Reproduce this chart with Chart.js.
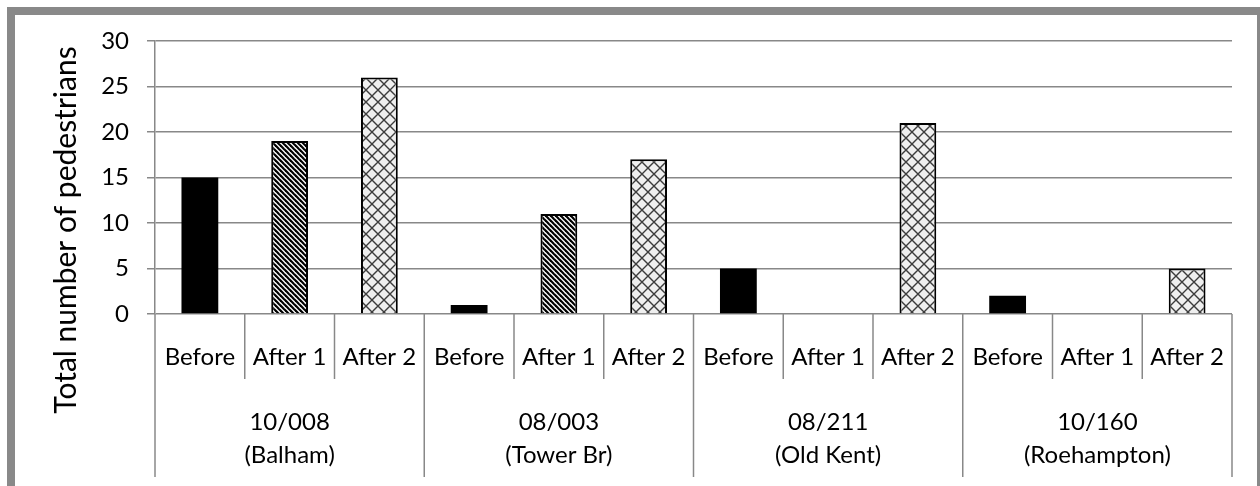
<!DOCTYPE html>
<html>
<head>
<meta charset="utf-8">
<script src="https://cdn.jsdelivr.net/npm/chart.js@4"></script>
<style>
    html, body { margin: 0; padding: 0; background: #fff; overflow: hidden; }
    #frame { position: absolute; left: 7px; top: 7px; width: 1258px; height: 500px; border: 8px solid #898989; box-sizing: border-box; }
    #chart { position: absolute; left: 0; top: 0; }
</style>
</head>
<body>
<div id="frame"></div>
<canvas id="chart" width="1260" height="486"></canvas>
<script>

// Sites (two-line group labels) and the phases counted at each one
const sites = [['10/008', '(Balham)'], ['08/003', '(Tower Br)'], ['08/211', '(Old Kent)'], ['10/160', '(Roehampton)']];
const phases = ['Before', 'After 1', 'After 2'];

// Pedestrian totals per site
const beforeCounts = [15, 1, 5, 2];
const after1Counts = [19, 11, 0, 0];
const after2Counts = [26, 17, 21, 5];

const yTicks = [0, 5, 10, 15, 20, 25, 30];
const yTitle = 'Total number of pedestrians';

const FONT = 'Lato';
const LINE = '#888888';

// One category per site/phase pair
const labels = [];
sites.forEach(() => phases.forEach(p => labels.push(p)));

// Each series only fills its own slot inside every site group
function spread(counts, slot){
    const out = labels.map(() => null);
    counts.forEach((v, i) => { out[i * phases.length + slot] = v; });
    return out;
}

//Fill patterns
function stripePattern(){
    const c = document.createElement('canvas');
    c.width = 5; c.height = 5;
    const g = c.getContext('2d');
    g.fillStyle = '#fff';
    g.fillRect(0, 0, 5, 5);
    g.strokeStyle = '#000';
    g.lineWidth = 2.2;
    [-5, 0, 5].forEach(o => {
        g.beginPath();
        g.moveTo(o - 1, -1);
        g.lineTo(o + 6, 6);
        g.stroke();
    });
    return g.createPattern(c, 'repeat');
}

function crossPattern(){
    const c = document.createElement('canvas');
    c.width = 12; c.height = 12;
    const g = c.getContext('2d');
    g.fillStyle = '#efefef';
    g.fillRect(0, 0, 12, 12);
    g.strokeStyle = '#3c3c3c';
    g.lineWidth = 1.4;
    g.beginPath();
    g.moveTo(0, 0); g.lineTo(12, 12);
    g.moveTo(12, 0); g.lineTo(0, 12);
    g.stroke();
    return g.createPattern(c, 'repeat');
}

// Draws the two-level category axis and the rotated y title
const categoryAxis = {
    id: 'categoryAxis',
    afterDraw(chart){
        const {ctx, chartArea, scales: {x}} = chart;
        const y0 = chartArea.bottom;
        const half = (x.getPixelForValue(1) - x.getPixelForValue(0)) / 2;
        ctx.save();
        ctx.strokeStyle = LINE;
        ctx.lineWidth = 1.5;
        for (let i = 0; i <= labels.length; i++){
            const px = i < labels.length ? x.getPixelForValue(i) - half : x.getPixelForValue(labels.length - 1) + half;
            const groupEdge = i % phases.length === 0;
            ctx.beginPath();
            ctx.moveTo(px, y0);
            ctx.lineTo(px, y0 + (groupEdge ? 163 : 65));
            ctx.stroke();
        }
        ctx.fillStyle = '#000';
        ctx.textAlign = 'center';
        ctx.textBaseline = 'middle';
        ctx.font = '24px ' + FONT;
        labels.forEach((l, i) => ctx.fillText(l, x.getPixelForValue(i), y0 + 43));
        sites.forEach((s, gi) => {
            const cx = x.getPixelForValue(gi * phases.length + 1);
            ctx.fillText(s[0], cx, y0 + 108);
            ctx.fillText(s[1], cx, y0 + 141);
        });
        ctx.translate(66, 230);
        ctx.rotate(-Math.PI / 2);
        ctx.font = '30px ' + FONT;
        ctx.fillText(yTitle, 0, 0);
        ctx.restore();
    }
};

new Chart(
    document.getElementById('chart'),
    {
        type: 'bar',
        plugins: [categoryAxis],
        data: {
            labels: labels,
            datasets: [
                {label: phases[0], data: spread(beforeCounts, 0), backgroundColor: '#000', borderWidth: 0},
                {label: phases[1], data: spread(after1Counts, 1), backgroundColor: stripePattern(), borderColor: '#000', borderWidth: 2},
                {label: phases[2], data: spread(after2Counts, 2), backgroundColor: crossPattern(), borderColor: '#000', borderWidth: 2}
            ]
        },
        options: {
            responsive: false,
            animation: false,
            devicePixelRatio: 1,
            skipNull: true,
            barPercentage: 0.41,
            categoryPercentage: 1,
            layout: {padding: {top: 41, right: 28, bottom: 172, left: 0}},
            plugins: {
                legend: {display: false},
                tooltip: {enabled: false}
            },
            scales: {
                x: {display: false},
                y: {
                    min: 0,
                    max: 30,
                    afterBuildTicks: axis => { axis.ticks = yTicks.map(v => ({value: v})); },
                    afterFit: axis => { axis.width = 155; },
                    ticks: {color: '#000', font: {family: FONT, size: 24}, padding: 18},
                    grid: {color: LINE, lineWidth: 1.5, tickLength: 8},
                    border: {color: LINE, width: 1.5}
                }
            }
        }
    }
);
</script>
</body>
</html>
